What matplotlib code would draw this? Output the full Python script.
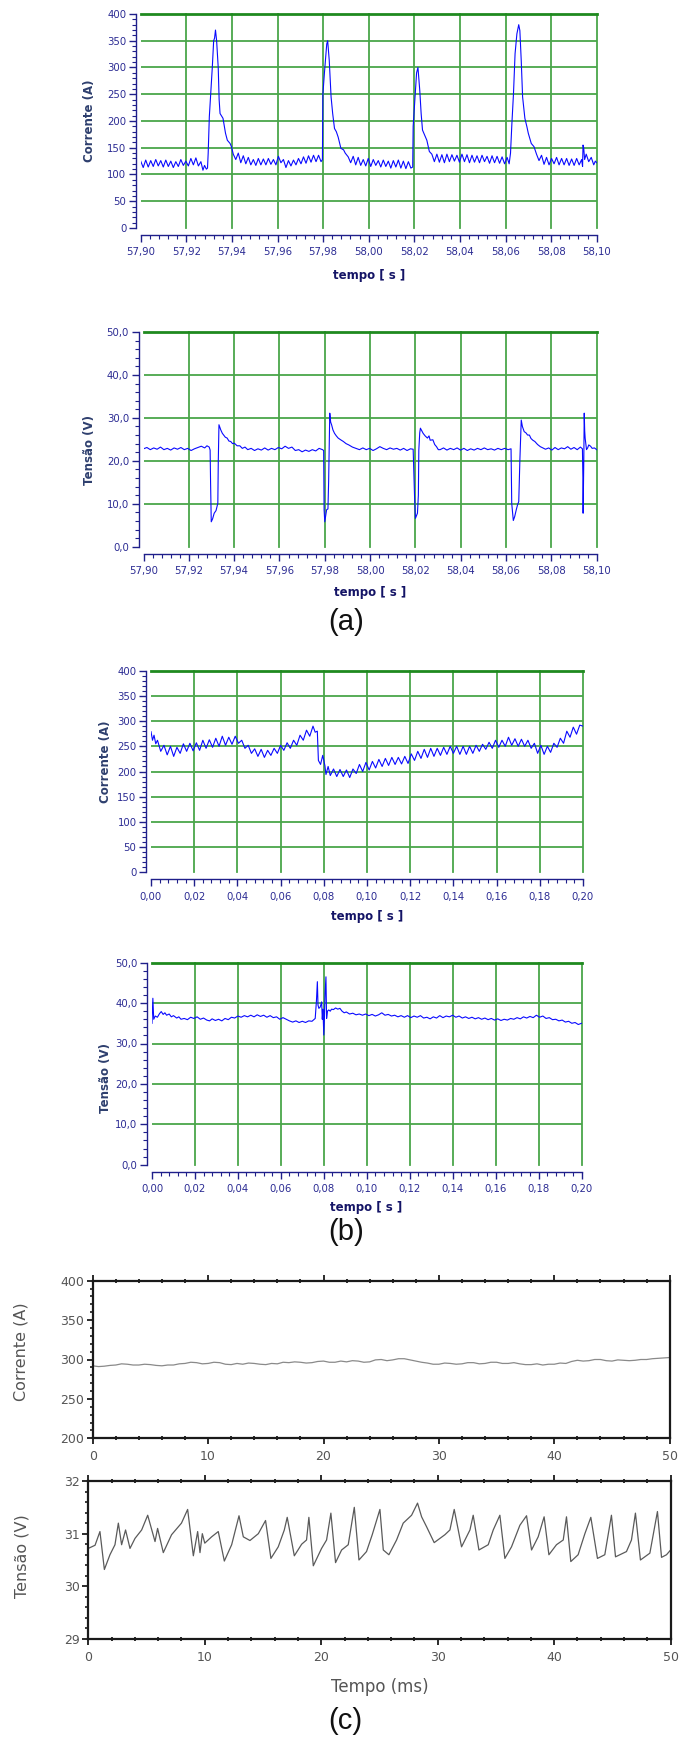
import numpy as np
import matplotlib
matplotlib.use('Agg')
import matplotlib.pyplot as plt
from matplotlib.ticker import MultipleLocator, FuncFormatter

# ---- data (time in ms, value) ----
# (a) corrente, starts at 57.90 s
a_corrente = [
    (0.0, 125), (1.1, 113), (2.2, 127), (3.3, 114), (4.4, 126), (5.5, 115), (6.6, 128), (7.7, 116),
    (8.8, 126), (9.9, 114), (11.0, 127), (12.1, 115), (13.2, 125), (14.3, 113), (15.4, 124), (16.5, 115),
    (17.6, 128), (18.7, 117), (19.8, 125), (20.9, 116), (22.0, 130), (23.1, 118), (24.2, 131), (25.3, 116),
    (26.4, 124), (27.3, 108), (28.0, 117), (28.8, 110), (29.3, 112),
    (29.6, 140), (30.1, 208), (30.7, 250), (31.4, 300), (32.0, 350), (32.4, 355), (32.8, 370), (33.3, 350),
    (34.0, 300), (34.4, 240), (34.8, 214), (36.1, 205), (37.2, 177), (38.0, 164), (39.2, 158), (39.8, 152),
    (40.6, 138),
    (41.7, 128), (42.8, 140), (43.9, 122), (45.0, 135), (46.1, 120), (47.2, 132), (48.3, 118), (49.4, 128),
    (50.5, 117), (51.6, 130), (52.7, 118), (53.8, 129), (54.9, 118), (56.0, 130), (57.1, 119), (58.2, 128),
    (59.3, 118), (60.4, 134), (61.5, 122), (62.6, 128), (63.7, 113), (64.8, 126), (65.9, 116), (67.0, 127),
    (68.1, 118), (69.2, 130), (70.3, 120), (71.4, 133), (72.5, 121), (73.6, 135), (74.7, 123), (75.8, 136),
    (76.9, 124), (78.0, 136), (79.1, 124), (79.7, 128),
    (79.8, 190), (79.9, 250), (80.6, 291), (81.6, 344), (82.0, 350), (82.7, 313), (83.5, 245), (84.2, 214),
    (85.0, 186), (85.8, 180), (86.6, 170), (87.8, 149), (89.0, 146), (89.7, 140), (91.0, 133),
    (92.1, 122), (93.2, 134), (94.3, 118), (95.4, 132), (96.5, 117), (97.6, 128), (98.7, 116), (99.8, 130),
    (100.9, 115), (102.0, 128), (103.1, 117), (104.2, 126), (105.3, 114), (106.4, 127), (107.5, 115),
    (108.6, 125), (109.7, 112), (110.8, 126), (111.9, 114), (113.0, 127), (114.1, 112), (115.2, 125),
    (116.3, 111), (117.4, 124), (118.5, 112), (119.3, 114),
    (119.5, 190), (120.3, 245), (121.0, 290), (121.6, 300), (122.4, 257), (123.0, 214), (123.6, 183),
    (124.5, 174), (125.5, 164), (126.6, 143), (127.7, 138),
    (128.8, 124), (129.9, 138), (131.0, 123), (132.1, 137), (133.2, 122), (134.3, 138), (135.4, 124),
    (136.5, 137), (137.6, 125), (138.7, 136), (139.8, 123), (140.9, 138), (142.0, 124), (143.1, 137),
    (144.2, 122), (145.3, 136), (146.4, 123), (147.5, 135), (148.6, 122), (149.7, 136), (150.8, 124),
    (151.9, 134), (153.0, 121), (154.1, 135), (155.2, 122), (156.3, 134), (157.4, 121), (158.5, 133),
    (159.6, 120), (160.7, 132), (161.6, 120),
    (162.2, 140), (162.8, 195), (163.5, 251), (164.2, 326), (165.0, 363), (165.8, 380), (166.3, 369),
    (166.9, 313), (167.5, 245), (168.5, 205), (169.4, 189), (170.0, 177), (171.3, 158), (172.5, 152),
    (173.6, 138),
    (174.7, 126), (175.8, 136), (176.9, 119), (178.0, 132), (179.1, 118), (180.2, 130), (181.3, 120),
    (182.4, 132), (183.5, 118), (184.6, 130), (185.7, 118), (186.8, 130), (187.9, 117), (189.0, 129),
    (190.1, 117), (191.2, 130), (192.3, 118), (193.4, 128), (193.8, 115), (194.0, 155), (194.3, 150),
    (194.7, 128), (195.4, 138), (196.5, 124), (197.6, 132), (198.7, 118), (199.4, 125), (200.0, 122),
]

# (a) tensao
a_tensao = [
    (0, 22.8), (1.5, 23.1), (3, 22.6), (4.5, 23.0), (6, 22.7), (7.5, 23.2), (9, 22.6), (10.5, 22.9),
    (12, 22.5), (13.5, 23.0), (15, 22.7), (16.5, 23.1), (18, 22.6), (19.5, 22.9), (21, 22.4), (22.5, 22.8),
    (24, 23.1), (25.5, 23.4), (27, 23.0), (28, 23.5), (29, 23.2), (29.4, 22.5), (29.6, 15.0), (29.9, 5.8),
    (30.5, 6.5), (31.2, 7.8), (32.0, 8.4), (32.8, 10.1), (33.0, 19.8), (33.3, 28.4), (33.7, 27.8),
    (34.1, 27.2), (34.8, 26.4), (35.4, 26.0), (36.1, 25.5), (36.9, 25.3), (37.7, 24.6), (38.5, 24.5),
    (39.3, 24.0), (40.1, 24.1), (41.3, 23.5), (42.5, 23.5), (43.6, 22.9), (44.8, 23.2), (46, 22.6),
    (47.5, 22.9), (49, 22.4), (50.5, 22.8), (52, 22.5), (53.5, 23.0), (55, 22.5), (56.5, 22.9), (58, 22.6),
    (59.5, 23.1), (61, 22.8), (62.5, 23.4), (64, 22.9), (65.5, 23.2), (67, 22.4), (68.5, 22.6), (70, 22.1),
    (71.5, 22.5), (73, 22.2), (74.5, 22.6), (76, 22.3), (77.5, 22.9), (79, 22.6), (79.5, 22.4),
    (79.7, 8.6), (80.0, 5.8), (80.8, 8.6), (81.4, 8.8), (81.7, 15.2), (82.0, 25.0), (82.2, 31.1),
    (82.6, 29.0), (83.0, 28.4), (83.6, 27.2), (84.3, 26.4), (85.1, 25.8), (85.9, 25.3), (87.0, 24.9),
    (88.2, 24.5), (89.4, 24.0), (90.6, 23.7), (92.2, 23.2), (93.8, 22.9), (95.3, 22.6), (96.8, 23.0),
    (98.3, 22.6), (99.8, 22.9), (101.3, 22.4), (102.8, 22.8), (104.3, 23.3), (105.8, 22.9), (107.3, 22.6),
    (108.8, 23.0), (110.3, 22.7), (111.8, 22.9), (113.3, 22.5), (114.8, 22.9), (116.3, 22.4), (117.8, 22.8),
    (119.0, 22.7), (119.3, 17.1), (119.6, 12.0), (120.0, 6.6), (120.9, 7.8), (121.3, 12.0), (121.5, 22.5),
    (121.9, 26.5), (122.2, 27.6), (122.8, 27.0), (123.4, 26.4), (124.3, 25.8), (125.3, 25.3), (126.0, 25.8),
    (126.5, 24.8), (127.7, 24.9), (128.5, 23.8), (129.3, 23.3), (130.1, 22.6), (130.9, 22.6), (132.4, 23.0),
    (133.9, 22.5), (135.4, 22.9), (136.9, 22.6), (138.4, 23.0), (139.9, 22.5), (141.4, 22.9), (142.9, 22.4),
    (144.4, 22.8), (145.9, 22.5), (147.4, 22.9), (148.9, 22.6), (150.4, 23.0), (151.9, 22.6), (153.4, 22.8),
    (154.9, 22.5), (156.4, 22.9), (157.9, 22.6), (159.4, 22.9), (160.9, 22.6), (162.2, 22.8), (162.5, 10.1),
    (163.2, 6.1), (163.8, 7.0), (164.5, 8.6), (165.1, 9.8), (165.6, 10.5), (166.1, 20.2), (166.7, 29.5),
    (167.2, 28.0), (168.0, 26.8), (168.8, 26.5), (169.5, 26.0), (170.3, 26.0), (171.0, 25.2), (171.8, 24.8),
    (172.7, 24.5), (173.9, 23.8), (175.1, 23.3), (176.2, 23.0), (177.4, 22.7), (178.8, 23.0), (180.2, 22.5),
    (181.6, 23.1), (183.0, 22.6), (184.4, 23.0), (185.8, 22.8), (187.2, 23.3), (188.6, 22.7), (190.0, 23.1),
    (191.4, 22.6), (192.8, 23.2), (193.7, 22.8), (193.9, 16.3), (194.0, 7.8), (194.3, 20.0), (194.5, 31.1),
    (194.7, 27.0), (194.9, 25.3), (195.5, 22.6), (196.0, 23.0), (196.5, 23.7), (197.3, 23.4), (198.0, 22.9),
    (199.0, 23.0), (200.0, 22.6),
]

# (b) corrente, starts at 0 s
b_corrente = [
    (0, 279), (0.7, 262), (1.4, 272), (2.2, 255), (3.0, 262), (4.5, 240), (6.0, 252), (7.5, 233), (9.0, 250),
    (10.5, 230), (12.0, 248), (13.5, 236), (15.0, 255), (16.5, 240), (18.0, 256), (19.5, 241), (21.0, 257),
    (22.5, 242), (24.0, 262), (25.5, 246), (27.0, 263), (28.5, 248), (30.0, 266), (31.5, 250), (33.0, 270),
    (34.5, 252), (36.0, 268), (37.5, 254), (39.0, 270), (40.5, 256), (42.0, 262), (43.5, 246), (45.0, 252),
    (46.5, 236), (48.0, 245), (49.5, 230), (51.0, 244), (52.5, 228), (54.0, 242), (55.5, 232), (57.0, 246),
    (58.5, 236), (60.0, 252), (61.5, 242), (63.0, 257), (64.5, 246), (66.0, 262), (67.5, 252), (69.0, 272),
    (70.5, 262), (72.0, 282), (73.5, 270), (75.0, 290), (76.0, 278), (77.0, 280), (77.5, 222), (78.5, 214),
    (79.5, 232), (80.5, 212), (81.0, 194), (82.0, 210), (83.0, 192), (84.5, 205), (86.0, 190), (87.5, 204),
    (89.0, 190), (90.5, 203), (92.0, 188), (93.5, 205), (95.0, 196), (96.5, 214), (98.0, 200), (99.5, 218),
    (101.0, 203), (102.5, 220), (104.0, 207), (105.5, 224), (107.0, 210), (108.5, 226), (110.0, 212),
    (111.5, 228), (113.0, 214), (114.5, 228), (116.0, 215), (117.5, 230), (119.0, 216), (120.5, 235),
    (122.0, 222), (123.5, 240), (125.0, 226), (126.5, 244), (128.0, 228), (129.5, 246), (131.0, 230),
    (132.5, 246), (134.0, 232), (135.5, 248), (137.0, 234), (138.5, 250), (140.0, 236), (141.5, 250),
    (143.0, 234), (144.5, 250), (146.0, 234), (147.5, 250), (149.0, 236), (150.5, 252), (152.0, 240),
    (153.5, 254), (155.0, 244), (156.5, 258), (158.0, 246), (159.5, 262), (161.0, 248), (162.5, 262),
    (164.0, 250), (165.5, 268), (167.0, 252), (168.5, 265), (170.0, 250), (171.5, 264), (173.0, 250),
    (174.5, 262), (176.0, 246), (177.5, 256), (179.0, 236), (180.5, 252), (182.0, 234), (183.5, 250),
    (185.0, 238), (186.5, 256), (188.0, 248), (189.5, 266), (191.0, 256), (192.5, 280), (194.0, 268),
    (195.5, 288), (197.0, 274), (198.5, 292), (200.0, 290),
]

# (b) tensao
b_tensao = [
    (0, 35.0), (0.4, 41.2), (0.8, 36.0), (1.5, 36.8), (2.5, 36.5), (3.5, 37.4), (4.3, 37.9), (5.2, 37.2),
    (6.0, 37.6), (6.8, 37.0), (8.0, 37.3), (9.0, 36.6), (10.0, 36.9), (11.5, 36.3), (12.5, 36.6), (13.5, 36.0),
    (15.0, 36.2), (16.5, 35.9), (18.0, 36.5), (19.5, 36.2), (21.0, 36.6), (22.5, 36.0), (24.0, 36.3),
    (25.5, 35.8), (26.8, 35.6), (28.0, 36.1), (29.5, 35.7), (31.0, 36.0), (32.5, 35.6), (34.0, 36.2),
    (35.5, 35.9), (37.0, 36.5), (38.5, 36.3), (40.0, 36.8), (41.5, 36.5), (43.0, 36.9), (44.5, 36.6),
    (46.0, 37.0), (47.5, 36.6), (49.0, 37.1), (50.5, 36.7), (52.0, 37.0), (53.5, 36.5), (55.0, 36.9),
    (56.5, 36.4), (58.0, 36.6), (59.5, 36.0), (61.0, 36.4), (62.5, 36.0), (64.0, 35.6), (65.5, 35.3),
    (67.0, 35.6), (68.5, 35.2), (70.0, 35.5), (71.5, 35.2), (73.0, 35.6), (74.5, 35.5), (76.0, 36.2),
    (76.6, 40.8), (77.0, 45.3), (77.3, 39.5), (77.7, 38.7), (78.3, 39.0), (79.0, 40.3), (79.3, 36.0),
    (79.6, 38.5), (80.0, 32.1), (80.3, 36.5), (80.6, 42.4), (81.0, 46.5), (81.3, 36.2), (81.7, 38.0),
    (82.3, 38.3), (83.0, 38.0), (83.6, 38.5), (84.5, 38.4), (85.5, 38.8), (86.5, 38.5), (87.5, 38.7),
    (88.5, 38.0), (89.5, 37.6), (90.5, 37.8), (92.0, 37.3), (93.5, 37.5), (95.0, 37.1), (96.5, 37.3),
    (98.0, 37.0), (99.5, 37.3), (101.0, 36.9), (102.5, 37.2), (104.0, 36.8), (105.5, 37.1), (107.0, 37.6),
    (108.5, 37.0), (110.0, 37.2), (111.5, 36.8), (113.0, 37.0), (114.5, 36.6), (116.0, 36.9), (117.5, 36.5),
    (119.0, 36.9), (120.5, 36.4), (122.0, 36.8), (123.5, 36.5), (125.0, 36.9), (126.5, 36.3), (128.0, 36.5),
    (129.5, 36.1), (131.0, 36.6), (132.5, 36.3), (134.0, 36.9), (135.5, 36.4), (137.0, 36.8), (138.5, 36.6),
    (140.0, 37.0), (141.5, 36.5), (143.0, 36.8), (144.5, 36.3), (146.0, 36.6), (147.5, 36.2), (149.0, 36.5),
    (150.5, 36.1), (152.0, 36.4), (153.5, 36.0), (155.0, 36.3), (156.5, 35.9), (158.0, 36.2), (159.5, 35.8),
    (161.0, 36.1), (162.5, 35.7), (164.0, 36.0), (165.5, 35.8), (167.0, 36.2), (168.5, 36.0), (170.0, 36.4),
    (171.5, 36.1), (173.0, 36.6), (174.5, 36.3), (176.0, 36.7), (177.5, 36.4), (179.0, 37.0), (180.5, 36.5),
    (182.0, 36.8), (183.5, 36.2), (185.0, 36.4), (186.5, 35.9), (188.0, 36.0), (189.5, 35.6), (191.0, 35.8),
    (192.5, 35.3), (194.0, 35.5), (195.5, 35.0), (197.0, 35.2), (198.5, 34.7), (200.0, 35.0),
]

# (c) corrente, one value every 0.5 ms
c_corrente = [
    292, 291, 291.5, 292.5, 293, 294.5, 294, 293, 293, 294, 293.5, 292.5, 292, 293, 293, 294.5,
    295, 296.5, 296, 294.5, 295, 296.5, 296, 294, 293.5, 295, 294, 295.5, 295, 294, 293.5, 295,
    294.5, 296.5, 296, 297, 296.5, 295.5, 296, 297.5, 298, 296.5, 296.5, 298, 297, 298.5, 298, 296.5,
    297, 299.5, 300, 298.5, 299.5, 301, 301, 299.5, 298, 296.5, 295.5, 294, 294, 295.5, 295, 294,
    294.5, 296, 296, 294.5, 295, 296.5, 296.5, 295, 295, 296, 294.5, 293.5, 293.5, 294.5, 293, 294,
    294, 295.5, 295, 297.5, 299, 298, 298.5, 300, 300, 298.5, 298, 299.5, 299, 298.5, 299, 300,
    300, 301, 301.5, 302, 302.5,
]

# (c) tensao
c_tensao = [
    (0, 30.72), (0.58, 30.78), (1.0, 31.04), (1.38, 30.32), (1.86, 30.6), (2.29, 30.79), (2.58, 31.2),
    (2.86, 30.79), (3.2, 31.07), (3.58, 30.72), (4.01, 30.91), (4.58, 31.07), (5.1, 31.35), (5.73, 30.85),
    (5.95, 31.1), (6.44, 30.64), (7.15, 30.98), (8.0, 31.2), (8.53, 31.46), (9.02, 30.58), (9.39, 31.04),
    (9.59, 30.64), (9.79, 31.0), (10.0, 30.82), (10.59, 30.94), (11.16, 31.04), (11.68, 30.48),
    (12.31, 30.79), (12.94, 31.34), (13.31, 30.94), (13.88, 30.87), (14.6, 31.0), (15.22, 31.25),
    (15.68, 30.53), (16.31, 30.75), (16.83, 31.07), (17.08, 31.31), (17.69, 30.58), (18.32, 30.8),
    (18.74, 30.88), (18.94, 31.31), (19.32, 30.39), (20.03, 30.72), (20.46, 30.88), (20.83, 31.39),
    (21.23, 30.45), (21.75, 30.69), (22.32, 30.79), (22.84, 31.5), (23.24, 30.5), (23.89, 30.66),
    (24.38, 30.98), (25.04, 31.46), (25.33, 30.69), (25.81, 30.6), (26.47, 30.88), (27.04, 31.2),
    (27.76, 31.35), (28.27, 31.58), (28.62, 31.32), (29.05, 31.13), (29.7, 30.83), (30.62, 30.98),
    (31.05, 31.07), (31.42, 31.46), (32.05, 30.75), (32.77, 31.07), (33.05, 31.35), (33.54, 30.69),
    (34.34, 30.79), (34.77, 31.07), (35.34, 31.35), (35.77, 30.53), (36.34, 30.75), (37.06, 31.16),
    (37.63, 31.34), (38.06, 30.69), (38.63, 30.94), (39.14, 31.32), (39.55, 30.6), (40.2, 30.79),
    (40.78, 30.88), (41.06, 31.32), (41.43, 30.47), (42.06, 30.6), (42.64, 31.0), (43.15, 31.31),
    (43.72, 30.53), (44.35, 30.6), (44.92, 31.35), (45.27, 30.56), (46.21, 30.66), (46.64, 30.88),
    (46.98, 31.39), (47.41, 30.5), (48.22, 30.63), (48.87, 31.42), (49.22, 30.55), (49.65, 30.6),
    (50.0, 30.69),
]

# ---- figure ----
W, H = 684, 1737
fig = plt.figure(figsize=(W / 100, H / 100), dpi=100)

NAVY = '#1f1f8a'
TICKC = '#2b2b93'
LABC = '#2e3f6e'
GREEN = '#4aa64a'
DKGREEN = '#1f8a1f'
BLUE = '#0a0aff'
GRAY = '#555555'


def box(x0, y0, x1, y1):
    return fig.add_axes([x0 / W, 1 - y1 / H, (x1 - x0) / W, (y1 - y0) / H])


def comma(nd):
    return FuncFormatter(lambda v, p: f'{v:.{nd}f}'.replace('.', ','))


def green_panel(ax, xlim, ylim, ymaj, ymin, ynd):
    ax.set_xlim(*xlim)
    ax.set_ylim(*ylim)
    for s in ['top', 'right']:
        ax.spines[s].set_visible(False)
    ax.spines['left'].set_position(('outward', 3.4))
    ax.spines['bottom'].set_position(('outward', 5))
    for s in ['left', 'bottom']:
        ax.spines[s].set_color(NAVY)
        ax.spines[s].set_linewidth(1.0)
    ax.xaxis.set_major_locator(MultipleLocator(0.02))
    ax.xaxis.set_minor_locator(MultipleLocator(0.004))
    ax.yaxis.set_major_locator(MultipleLocator(ymaj))
    ax.yaxis.set_minor_locator(MultipleLocator(ymin))
    ax.xaxis.set_major_formatter(comma(2))
    ax.yaxis.set_major_formatter(comma(ynd))
    ax.tick_params(which='major', direction='out', length=5, width=1, color=NAVY,
                   labelcolor=TICKC, labelsize=7.3)
    ax.tick_params(which='minor', direction='out', length=3, width=0.8, color=NAVY)
    ax.tick_params(axis='x', pad=4)
    ax.tick_params(axis='y', pad=2)
    eps = 1e-9
    for xv in ax.xaxis.get_majorticklocs():
        if xlim[0] + eps < xv <= xlim[1] + eps:
            ax.axvline(xv, color=GREEN, lw=1.3, zorder=1, clip_on=False)
    for yv in ax.yaxis.get_majorticklocs():
        if ylim[0] + eps < yv < ylim[1] - eps:
            ax.axhline(yv, color=GREEN, lw=1.3, zorder=1)
    ax.axhline(ylim[1], color=DKGREEN, lw=2.0, zorder=1, clip_on=False)
    ax.patch.set_alpha(0)


def gray_panel(ax, ylim, ymaj, ymin):
    ax.set_xlim(0, 50)
    ax.set_ylim(*ylim)
    for s in ax.spines.values():
        s.set_color('#1a1a1a')
        s.set_linewidth(1.6)
    ax.xaxis.set_major_locator(MultipleLocator(10))
    ax.xaxis.set_minor_locator(MultipleLocator(2))
    ax.yaxis.set_major_locator(MultipleLocator(ymaj))
    ax.yaxis.set_minor_locator(MultipleLocator(ymin))
    ax.tick_params(axis='x', which='major', direction='out', top=True, bottom=True,
                   length=4.5, width=1.3, color='#1a1a1a', labelcolor=GRAY, labelsize=9, pad=4)
    ax.tick_params(axis='x', which='minor', direction='inout', top=True, bottom=True,
                   length=3, width=1.3, color='#1a1a1a')
    ax.tick_params(axis='y', which='both', direction='out', left=True, right=False,
                   color='#1a1a1a', labelcolor=GRAY, labelsize=9, pad=2)
    ax.tick_params(axis='y', which='major', length=4, width=1.3)
    ax.tick_params(axis='y', which='minor', length=2.5, width=1.2)


def lbl(x, y, s, rot=0, **kw):
    fig.text(x / W, 1 - y / H, s, ha='center', va='center', rotation=rot, **kw)


bold = dict(fontsize=8.5, fontweight='bold', family='DejaVu Sans')

# (a) corrente
t, v = zip(*a_corrente)
ax = box(140.7, 14, 596.7, 228)
ax.plot(57.90 + np.array(t) / 1000, v, color=BLUE, lw=0.8, zorder=3)
green_panel(ax, (57.90, 58.10), (0, 400), 50, 10, 0)
lbl(90, 121, 'Corrente (A)', 90, color=LABC, **bold)
lbl(368.7, 275, 'tempo [ s ]', color='#141466', **bold)

# (a) tensao
t, v = zip(*a_tensao)
ax = box(143.5, 332, 596.7, 546.7)
ax.plot(57.90 + np.array(t) / 1000, v, color=BLUE, lw=0.8, zorder=3)
green_panel(ax, (57.90, 58.10), (0, 50), 10, 2, 1)
lbl(90, 450, 'Tensão (V)', 90, color=LABC, **bold)
lbl(370, 592.7, 'tempo [ s ]', color='#141466', **bold)

lbl(346, 622, '(a)', fontsize=21, family='Liberation Sans', color='#111111')

# (b) corrente
t, v = zip(*b_corrente)
ax = box(151, 670.7, 583, 872.3)
ax.plot(np.array(t) / 1000, v, color=BLUE, lw=0.8, zorder=3)
green_panel(ax, (0.0, 0.20), (0, 400), 50, 10, 0)
lbl(106, 762, 'Corrente (A)', 90, color=LABC, **bold)
lbl(367, 916.7, 'tempo [ s ]', color='#141466', **bold)

# (b) tensao
t, v = zip(*b_tensao)
ax = box(152, 962.7, 581.5, 1164.7)
ax.plot(np.array(t) / 1000, v, color=BLUE, lw=0.8, zorder=3)
green_panel(ax, (0.0, 0.20), (0, 50), 10, 2, 1)
lbl(106, 1078, 'Tensão (V)', 90, color=LABC, **bold)
lbl(366, 1208, 'tempo [ s ]', color='#141466', **bold)

lbl(346, 1232, '(b)', fontsize=21, family='Liberation Sans', color='#111111')

# (c) corrente
ax = box(92.7, 1280.7, 669.7, 1438.3)
ax.plot(np.arange(len(c_corrente)) * 0.5, c_corrente, color='#8a8a8a', lw=0.9)
gray_panel(ax, (200, 400), 50, 10)
lbl(21, 1352, 'Corrente (A)', 90, fontsize=11.5, color=GRAY)

# (c) tensao
t, v = zip(*c_tensao)
ax = box(88.3, 1481, 670.6, 1639)
ax.plot(t, v, color='#5a5a5a', lw=0.9)
gray_panel(ax, (29, 32), 1, 0.2)
lbl(22, 1556, 'Tensão (V)', 90, fontsize=11.5, color=GRAY)
lbl(379.5, 1687, 'Tempo (ms)', fontsize=12, color=GRAY)

lbl(345, 1721, '(c)', fontsize=21, family='Liberation Sans', color='#111111')

fig.savefig('out.png', dpi=100, facecolor='white')
